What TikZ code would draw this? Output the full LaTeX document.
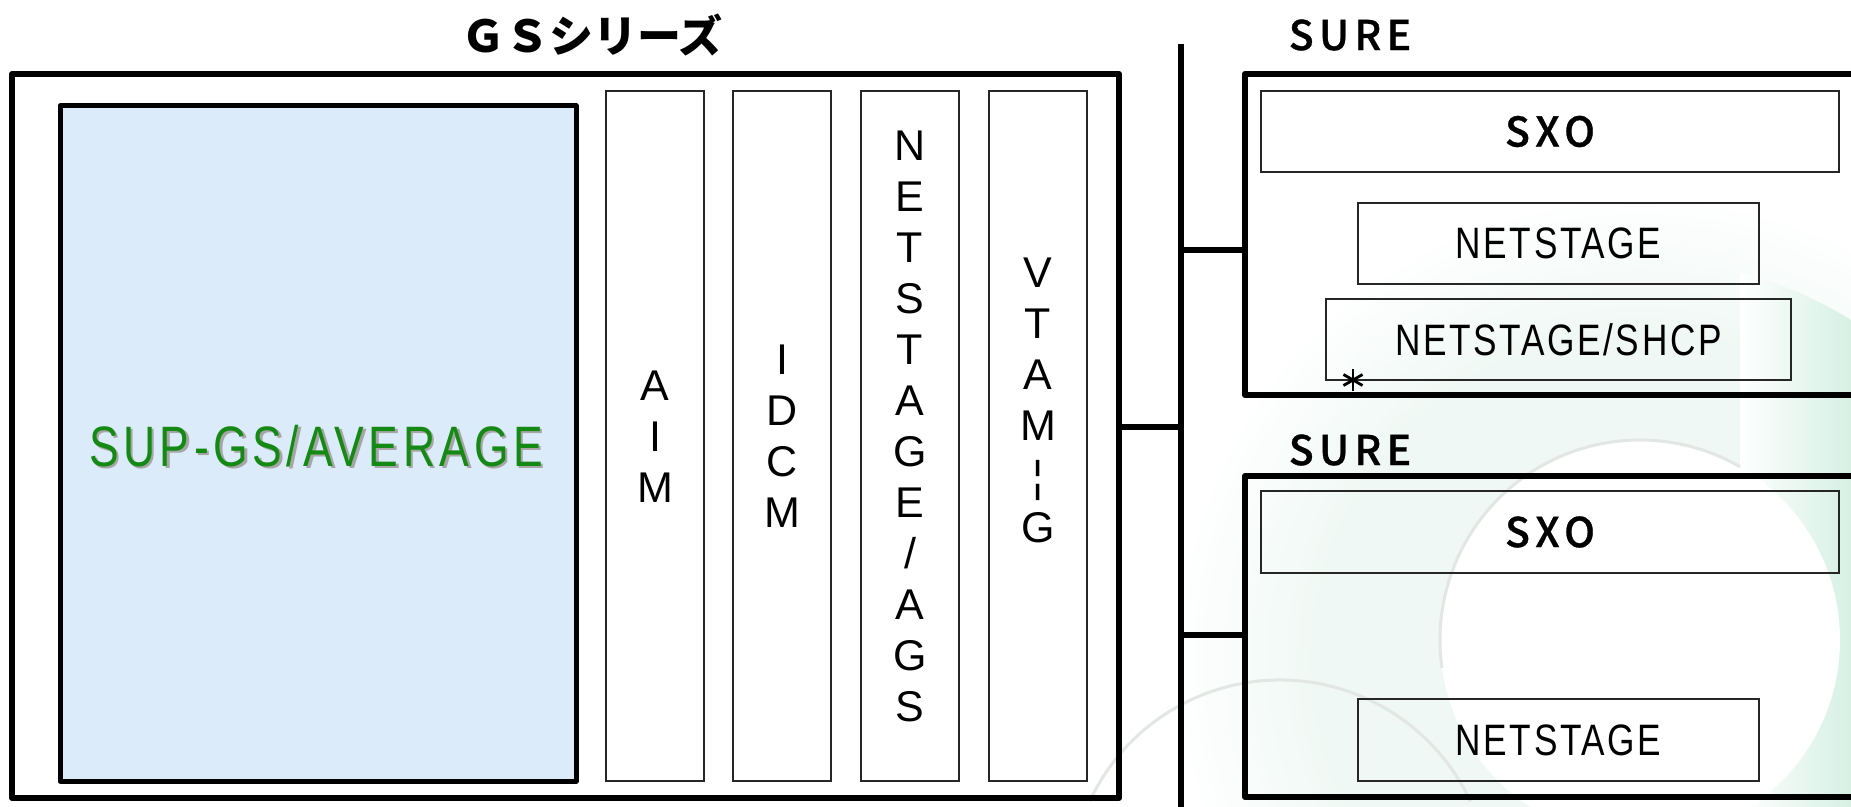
\documentclass[tikz,border=0pt]{standalone}
\usepackage{fontspec}
\usetikzlibrary{fit}
\setmainfont{Liberation Sans}
\newfontfamily\jpfont{Noto Sans CJK JP}
\newfontfamily\jpspaced[LetterSpace=13,BoldFont={Noto Sans CJK JP Medium},BoldFeatures={FakeBold=0.7}]{Noto Sans CJK JP}
\newfontfamily\narrowfont[FakeStretch=0.8,LetterSpace=6]{Liberation Sans}
\newfontfamily\supfont[FakeStretch=0.78,LetterSpace=8]{Liberation Sans}
\newfontfamily\colfont{Liberation Sans}
\definecolor{supgreen}{RGB}{20,138,20}
\definecolor{supblue}{RGB}{220,235,250}
\definecolor{mintA}{RGB}{239,248,244}
\definecolor{mintB}{RGB}{214,240,228}
\definecolor{swirlgrey}{RGB}{226,231,228}
\pgfdeclareradialshading{mintfade}{\pgfpoint{0bp}{0bp}}{color(0bp)=(mintA); color(17bp)=(mintA); color(25bp)=(white); color(50bp)=(white)}
\begin{document}
\begin{tikzpicture}[x=0.5pt,y=-0.5pt,
  frame/.style={draw=black,line width=3pt,line join=round,inner sep=0pt},
  bluebox/.style={draw=black,fill=supblue,line width=2.5pt,line join=round,inner sep=0pt},
  thinbox/.style={draw=black!85,line width=0.8pt,inner sep=0pt},
  wire/.style={line width=3pt},
  starline/.style={line width=1.4pt},
  coltext/.style={font=\colfont\fontsize{21.5}{25.5}\selectfont,align=center,inner sep=0pt},
  boldlbl/.style={font=\jpspaced\bfseries\fontsize{20.5}{20.5}\selectfont,inner sep=0pt},
  narrowlbl/.style={font=\narrowfont\fontsize{22}{22}\selectfont,inner sep=0pt},
  suplbl/.style={font=\supfont\fontsize{28.5}{28.5}\selectfont,inner sep=0pt}]
\clip (0,0) rectangle (1851,807);
\fill[white] (0,0) rectangle (1851,807);
% background swirl
\shade[shading=mintfade] (1640,660) circle[radius=470];
\begin{scope}
  \clip (1640,660) circle[radius=400];
  \shade[left color=white,right color=mintB] (1740,200) rectangle (1851,807);
\end{scope}
\fill[white] (1640,640) circle[radius=200];
\draw[swirlgrey,line width=1.5pt] (1640,640) ++(172:200) arc[start angle=172,end angle=300,radius=200];
\draw[swirlgrey,line width=1.5pt] (1280,890) ++(205:210) arc[start angle=205,end angle=335,radius=210];
% GS series
\node[font=\jpfont\bfseries\fontsize{22}{22}\selectfont,inner sep=0pt] (title) at (592,35) {ＧＳシリーズ};
\node[frame,fit={(12,74)(1119,798)}] (gs) {};
\node[bluebox,fit={(60,106)(576,781)}] (sup) {};
\node[suplbl,text=black!35] at (318.5,448.5) {SUP-GS/AVERAGE};
\node[suplbl,text=supgreen] (suptxt) at (316,446) {SUP-GS/AVERAGE};
\node[thinbox,fit={(606,91)(704,781)}] (aim) {};
\node[thinbox,fit={(733,91)(831,781)}] (idcm) {};
\node[thinbox,fit={(861,91)(959,781)}] (nags) {};
\node[thinbox,fit={(989,91)(1087,781)}] (vtam) {};
\node[coltext] (aimtxt) at (655,437) {A\\I\\M};
\node[coltext] (idcmtxt) at (782,436) {I\\D\\C\\M};
\node[coltext] (nagstxt) at (910,426) {N\\E\\T\\S\\T\\A\\G\\E\\/\\A\\G\\S};
\node[coltext] (vtamtxt) at (1038,400) {V\\T\\A\\M\\¦\\G};
% bus
\coordinate (bustop) at (1181,44);
\coordinate (busbot) at (1181,812);
\draw[wire] (bustop) -- (busbot);
% SURE 1
\node[boldlbl] (sure1) at (1350,35) {SURE};
\node[frame,fit={(1245,74)(1875,395)}] (sureA) {};
\node[thinbox,fit={(1261,91)(1839,172)}] (sxoA) {};
\node[boldlbl] at (sxoA.center) {SXO};
\node[thinbox,fit={(1358,203)(1759,284)}] (nsA) {};
\node[narrowlbl] at (nsA.center) {NETSTAGE};
\node[thinbox,fit={(1326,299)(1791,380)}] (shcp) {};
\node[narrowlbl] at (shcp.center) {NETSTAGE/SHCP};
\coordinate (ast) at (1353,380);
\draw[starline] (ast) ++(90:11) -- ++(270:22);
\draw[starline] (ast) ++(30:11) -- ++(210:22);
\draw[starline] (ast) ++(150:11) -- ++(330:22);
% SURE 2
\node[boldlbl] (sure2) at (1350,450) {SURE};
\node[frame,fit={(1245,476)(1875,797)}] (sureB) {};
\node[thinbox,fit={(1261,491)(1839,573)}] (sxoB) {};
\node[boldlbl] at (sxoB.center) {SXO};
\node[thinbox,fit={(1358,699)(1759,781)}] (nsB) {};
\node[narrowlbl] at (nsB.center) {NETSTAGE};
% connectors
\coordinate (j0) at (1181,427);
\coordinate (j1) at (1181,250);
\coordinate (j2) at (1181,635);
\draw[wire] (gs.east |- j0) -- (j0);
\draw[wire] (j1) -- (j1 -| sureA.west);
\draw[wire] (j2) -- (j2 -| sureB.west);
\end{tikzpicture}
\end{document}
